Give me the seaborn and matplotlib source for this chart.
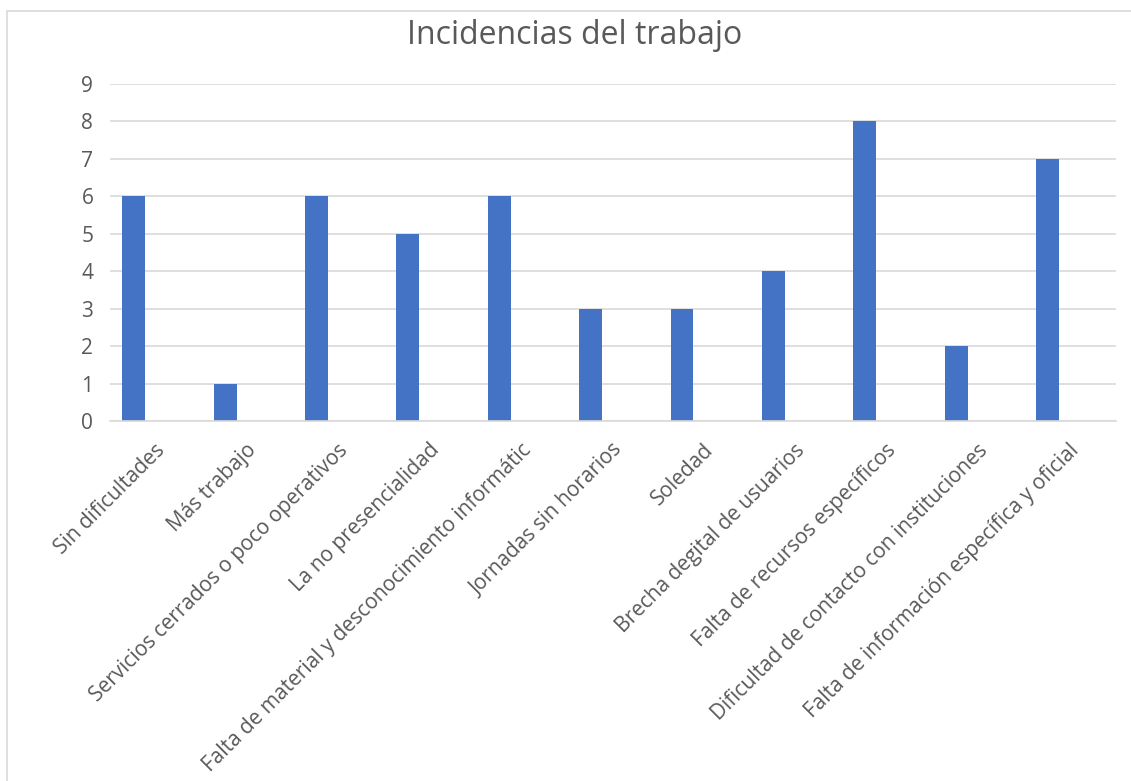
import matplotlib
matplotlib.use("Agg")
import matplotlib.pyplot as plt
import matplotlib.transforms as mtransforms
from matplotlib.patches import Rectangle
import seaborn as sns
import pandas as pd

# Datos del gráfico
categorias = [
    "Sin dificultades",
    "Más trabajo",
    "Servicios cerrados o poco operativos",
    "La no presencialidad",
    "Falta de material y desconocimiento informátic",
    "Jornadas sin horarios",
    "Soledad",
    "Brecha degital de usuarios",
    "Falta de recursos específicos",
    "Dificultad de contacto con instituciones",
    "Falta de información específica y oficial",
]
valores = [6, 1, 6, 5, 6, 3, 3, 4, 8, 2, 7]
ticks_y = list(range(0, 10))

df = pd.DataFrame({"categoria": categorias, "valor": valores})

sns.set_style("white")
plt.rcParams["font.family"] = ["Open Sans", "DejaVu Sans"]

gris = "#595959"
fig = plt.figure(figsize=(11.31, 7.81), dpi=100)
ax = fig.add_axes([110 / 1131, 1 - 421 / 781, (1116 - 110) / 1131, (421 - 84) / 781])

sns.barplot(data=df, x="categoria", y="valor", color="#4472C4", width=0.25,
            saturation=1, linewidth=0, ax=ax)

ax.set_xlim(-0.26, 10.75)
ax.set_ylim(0, 9)
ax.set_yticks(ticks_y)
ax.yaxis.grid(True, color="#D9D9D9", linewidth=1.2)
ax.set_axisbelow(True)
for s in ["top", "right", "left"]:
    ax.spines[s].set_visible(False)
ax.spines["bottom"].set_color("#D9D9D9")
ax.spines["bottom"].set_linewidth(1.2)
ax.set_xlabel("")
ax.set_ylabel("")
ax.tick_params(axis="both", length=0, colors=gris, labelsize=15)
ax.tick_params(axis="y", pad=12)

# desplazamiento de las etiquetas rotadas (estilo Excel)
offset = mtransforms.ScaledTranslation(21 / 100, -14 / 100, fig.dpi_scale_trans)
ax.set_xticks(range(len(categorias)))
ax.set_xticklabels(categorias, rotation=45, ha="right", va="top",
                   rotation_mode="anchor")
for lab in ax.get_xticklabels():
    lab.set_transform(lab.get_transform() + offset)

fig.text(575 / 1131, 1 - 36 / 781, "Incidencias del trabajo", ha="center",
         va="center", fontsize=23, color=gris)

fig.patches.append(Rectangle((7 / 1131, -0.05), 1.2, 1 - 11 / 781 + 0.05,
                             transform=fig.transFigure, fill=False,
                             edgecolor="#D9D9D9", linewidth=1.2))

fig.savefig("out.png", dpi=100)
